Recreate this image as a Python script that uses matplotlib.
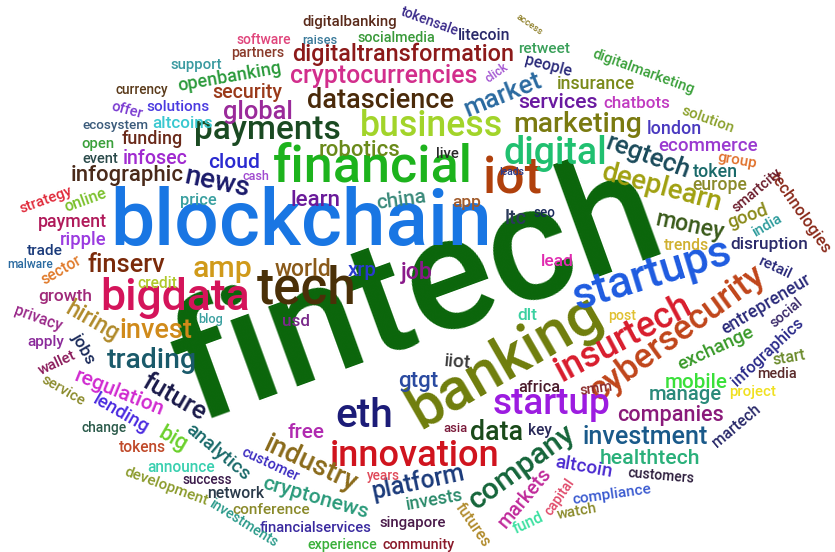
import matplotlib
matplotlib.use("Agg")
import matplotlib.pyplot as plt

# words of the cloud and their colours
words = [
    "fintech", "blockchain", "financial", "banking", "tech", "bigdata", "iot", "business",
    "payments", "digital", "insurtech", "cybersecurity", "startups", "startup", "company",
    "innovation", "eth", "datascience", "cryptocurrencies", "digitaltransformation",
    "deeplearn", "marketing", "market", "industry", "cryptonews", "analytics", "data",
    "invest", "trading", "future", "regulation", "amp", "news", "global", "regtech",
    "money", "platform", "investment", "companies", "infographic", "robotics", "security",
    "services", "finserv", "world", "openbanking", "exchange", "entrepreneur",
    "infographics", "healthtech", "mobile", "manage", "altcoin", "markets", "disruption",
    "ecommerce", "chatbots", "insurance", "cloud", "infosec", "funding", "altcoins",
    "solutions", "lending", "hiring", "growth", "payment", "ripple", "job", "china",
    "learn", "xrp", "gtgt", "free", "years", "invests", "singapore", "community",
    "futures", "financialservices", "experience", "conference", "network", "investments",
    "customer", "success", "announce", "development", "tokens", "big", "change",
    "service", "wallet", "jobs", "apply", "privacy", "sector", "malware", "trade",
    "online", "strategy", "price", "credit", "blog", "usd", "app", "ltc", "seo", "lead",
    "dlt", "iiot", "asia", "key", "africa", "smm", "fund", "capital", "watch",
    "compliance", "customers", "martech", "project", "media", "start", "post", "social",
    "retail", "trends", "india", "good", "technologies", "smartcity", "europe", "token",
    "group", "london", "solution", "digitalmarketing", "people", "click", "retweet",
    "litecoin", "access", "tokensale", "socialmedia", "raises", "software",
    "digitalbanking", "partners", "support", "currency", "offer", "ecosystem", "open",
    "event", "live", "leads", "cash",
]

colors = [
    "#0a650a", "#1976e3", "#1db31d", "#6f7d0c", "#4a3008", "#d4145a", "#b0400c", "#a2d42a",
    "#1a4a22", "#20c070", "#d81c2c", "#c0451a", "#1e5be0", "#9c1ce0", "#15653a",
    "#d0141e", "#1c1c78", "#4a2a0a", "#d22e8c", "#8c1a1a",
    "#a0a010", "#7a7a10", "#2a6aa0", "#8a6a1a", "#2a9a7a", "#1a6a6a", "#1a4a1a",
    "#d08a1a", "#1a5a6a", "#1a1a4a", "#d02ad0", "#d09a1a", "#1a1a6a", "#9a2a9a", "#1a4a5a",
    "#3a5a1a", "#1a3a7a", "#1a5a8a", "#8a1a7a", "#4a2a1a", "#6a8a1a", "#9a3a1a",
    "#6a1aa0", "#7a2a0a", "#8a5a1a", "#2a9a3a", "#3a9a2a", "#2a2a7a",
    "#2a2a8a", "#2ab07a", "#3ae03a", "#2a8a7a", "#4a2ad0", "#c02a9a", "#2a2a6a",
    "#9a3ad0", "#c03ac0", "#7a8a1a", "#2a2ad0", "#a02ad0", "#6a2a1a", "#3ac8d0",
    "#4a3ae0", "#4a2ae0", "#b08a2a", "#a02a7a", "#b01a5a", "#9a3ae0", "#8a1a8a", "#3a8a7a",
    "#6a1a9a", "#2a3ad0", "#2a4aa0", "#b02ab0", "#e04a5a", "#2a8a6a", "#4a1a4a", "#8a1a2a",
    "#b08a2a", "#3a2aa0", "#3ab03a", "#8a8a2a", "#2a3a4a", "#2a9a8a",
    "#3a2ac0", "#3a1a4a", "#3ad0b0", "#8a9a2a", "#c04a2a", "#6ad02a", "#2a5a4a",
    "#8a8a2a", "#8a1a5a", "#1a2a5a", "#8a2a9a", "#9a2a8a", "#e07a2a", "#2a6aa0", "#1a3a7a",
    "#7ac02a", "#e02a3a", "#3aa0a0", "#b0c82a", "#3aa0a0", "#7a2a8a", "#a05a2a", "#2a3a5a", "#1a2a5a", "#e02ab0",
    "#3ad0a0", "#3a3a3a", "#7a1a3a", "#2a2a5a", "#4a1a2a", "#8a2a2a", "#3ae0a0", "#e04a6a", "#8a8a2a",
    "#3a5ad0", "#2a1a3a", "#2a2a6a", "#f0e020", "#5a2a2a", "#6a8a2a", "#e0c030", "#3a2a6a",
    "#2a2a7a", "#d0b030", "#2a9a9a", "#8a8a1a", "#8a2a1a", "#6a1a2a", "#8a8a2a", "#1a6a6a",
    "#e0702a", "#4a3ac0", "#8aa02a", "#3aa03a", "#2a2a7a", "#a050d0", "#3aa05a",
    "#2a2a6a", "#8a7a20", "#3a2a8a", "#3a9a3a", "#3a7a9a", "#e0457b",
    "#5a2a1a", "#8a3a2a", "#3a9aa0", "#5a3a1a", "#7a3ad0", "#3a5a7a", "#3aa03a",
    "#2a4a4a", "#2a2a2a", "#2a3a8a", "#a04ad0",
]

# layout of the cloud: centre x, centre y (pixels from top-left), text width, rotation
layout = [
    (418, 294, 505, 20), (301, 224, 382, 0), (373, 168, 200, 0), (505, 362, 215, 30),
    (307, 290, 100, 0), (175, 298, 150, 0), (513, 180, 60, 0), (432, 126, 143, 0),
    (267, 130, 147, 0), (555, 153, 104, 0), (624, 338, 150, 28), (677, 333, 210, 36),
    (652, 275, 165, 17), (551, 405, 118, 0), (522, 467, 125, 36),
    (415, 456, 170, 0), (364, 416, 58, 0), (381, 101, 147, 0), (384, 76, 188, 0),
    (403, 54, 223, 0),
    (662, 188, 124, -15), (578, 125, 129, 0), (503, 95, 82, 22), (310, 464, 100, -25),
    (315, 498, 110, -16), (218, 452, 78, -40), (497, 433, 53, 0),
    (156, 331, 73, 0), (152, 360, 90, 0), (174, 397, 70, -30), (119, 393, 95, -22),
    (223, 269, 60, 0), (217, 183, 66, -12), (258, 112, 70, 0), (648, 157, 88, -20),
    (690, 226, 70, -12), (418, 482, 95, 12), (645, 437, 125, 0), (671, 416, 107, 0),
    (127, 175, 113, 0), (359, 151, 82, 0), (247, 93, 70, 0),
    (558, 103, 80, 0), (126, 265, 78, 0), (303, 269, 57, 0), (230, 77, 105, 10),
    (716, 348, 82, 25), (766, 304, 102, 31),
    (768, 352, 92, 43), (650, 458, 100, 0), (696, 382, 63, 0), (685, 395, 73, 0),
    (584, 467, 58, -10), (525, 498, 72, 50), (769, 245, 78, 0),
    (708, 146, 100, 0), (637, 104, 67, 0), (596, 84, 78, 0), (234, 163, 52, 0),
    (155, 158, 65, 0), (152, 139, 61, 0), (183, 123, 61, 0),
    (178, 107, 63, 0), (121, 414, 62, -30), (92, 321, 58, -30), (65, 296, 54, 0),
    (72, 222, 69, 0), (83, 240, 47, 0), (417, 273, 32, 0), (401, 200, 50, 8),
    (315, 200, 50, 0), (362, 270, 29, 0), (418, 382, 40, 0), (306, 433, 37, 0),
    (383, 476, 33, 0), (434, 500, 58, 10), (413, 523, 67, 0), (419, 545, 72, 0),
    (473, 525, 50, -55), (316, 528, 112, 0), (342, 545, 70, 0), (271, 510, 78, 0),
    (236, 493, 57, 0), (243, 523, 78, -32),
    (270, 465, 62, -25), (207, 480, 50, 0), (181, 468, 68, 0), (166, 486, 88, -20),
    (142, 447, 47, 0), (173, 439, 30, -30), (104, 428, 45, 0),
    (63, 391, 48, -30), (57, 363, 40, 25), (83, 349, 33, -60), (46, 342, 37, 0),
    (38, 318, 50, -20), (61, 270, 44, 30), (30, 265, 46, 0), (45, 251, 36, 0),
    (86, 200, 44, 20), (46, 200, 55, 20), (198, 200, 37, 0), (157, 284, 40, 0),
    (211, 319, 25, 0), (296, 321, 28, 0), (467, 203, 29, 0), (516, 219, 22, 0),
    (544, 213, 22, 0), (557, 261, 33, 0),
    (527, 315, 20, 0), (458, 362, 27, -5), (455, 428, 24, 0), (540, 430, 24, 0),
    (539, 388, 42, 0), (596, 389, 33, 8), (528, 523, 32, 25), (560, 497, 42, 55),
    (577, 512, 40, 10),
    (612, 495, 80, 8), (661, 476, 67, -5), (736, 426, 58, 40), (753, 392, 47, 0),
    (777, 374, 40, 0), (789, 358, 33, 10), (622, 316, 28, 0), (786, 313, 38, 40),
    (775, 268, 35, -25), (686, 245, 45, 0), (767, 226, 32, 30), (748, 216, 42, 20),
    (800, 213, 95, -55), (757, 190, 60, 40), (720, 185, 55, 0), (715, 172, 45, 0),
    (737, 161, 40, -10), (674, 129, 55, 0), (708, 120, 55, -20), (643, 72, 108, -20),
    (548, 66, 48, -15), (497, 73, 25, 35), (544, 49, 52, 0),
    (484, 36, 52, 0), (529, 25, 30, -35), (430, 22, 60, -20), (396, 38, 78, 0),
    (320, 40, 35, 0), (264, 40, 55, 0),
    (350, 22, 95, 0), (258, 53, 53, 0), (196, 65, 52, 0), (142, 90, 53, 0),
    (127, 110, 32, -15), (115, 126, 66, 0), (98, 144, 33, 0),
    (100, 159, 36, 0), (447, 154, 23, 0), (512, 172, 25, 0), (256, 177, 27, 0),
]

fig = plt.figure(figsize=(8.35, 5.52), dpi=100)
ax = fig.add_axes([0, 0, 1, 1])
ax.set_xlim(0, 835)
ax.set_ylim(552, 0)
ax.axis("off")

renderer = fig.canvas.get_renderer()
for word, color, (x, y, w, rot) in zip(words, colors, layout):
    t = ax.text(x, y, word, fontsize=20, color=color, ha="center", va="center",
                rotation_mode="anchor", family="Roboto", weight="medium")
    bw = t.get_window_extent(renderer).width
    t.set_fontsize(20 * w / bw)
    t.set_rotation(rot)

fig.savefig("out.png", dpi=100, facecolor="white")
